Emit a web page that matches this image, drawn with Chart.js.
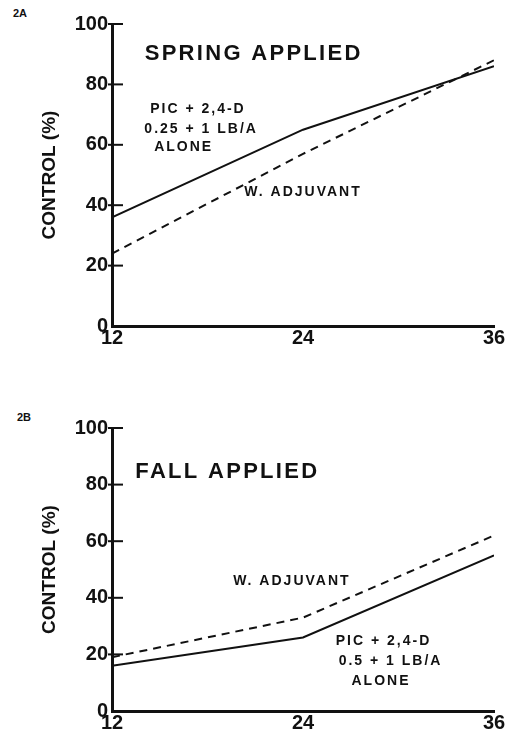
<!DOCTYPE html>
<html><head><meta charset="utf-8">
<script src="https://cdn.jsdelivr.net/npm/chart.js@4"></script>
<style>
html,body{margin:0;padding:0;background:#fff;}
body{width:509px;height:744px;position:relative;overflow:hidden;font-family:"Liberation Sans",Arial,sans-serif;}
.wrap{position:absolute;left:0;width:509px;}
.lab{position:absolute;font-weight:bold;font-size:11px;color:#111;line-height:11px;}
</style></head><body>
<div class="lab" style="left:13px;top:8px">2A</div>
<div class="lab" style="left:17px;top:412px">2B</div>
<div class="wrap" style="top:0;height:350px"><canvas id="cA" width="509" height="350"></canvas></div>
<div class="wrap" style="top:370px;height:374px"><canvas id="cB" width="509" height="374"></canvas></div>
<script>
const weeks = [12, 24, 36];
const yTicks = [0, 20, 40, 60, 80, 100];
const springAlone = [36, 65, 86];
const springAdjuvant = [24, 57, 88];
const fallAlone = [16, 26, 55];
const fallAdjuvant = [19, 33, 62];
const yTitle = 'CONTROL (%)';

const INK = '#111';
const FONT = '"Liberation Sans", Arial, sans-serif';

const inTicks = {
  id: 'inTicks',
  afterDraw(chart) {
    const y = chart.scales.y, ctx = chart.ctx, a = chart.chartArea;
    ctx.save();
    ctx.strokeStyle = INK; ctx.lineWidth = 2;
    y.ticks.forEach(t => {
      if (t.value === 0) return;
      const py = y.getPixelForValue(t.value);
      ctx.beginPath(); ctx.moveTo(a.left - 4, py); ctx.lineTo(a.left + 11, py); ctx.stroke();
    });
    ctx.restore();
  }
};

const notes = {
  id: 'notes',
  afterDatasetsDraw(chart, args, opts) {
    const {x, y} = chart.scales, ctx = chart.ctx;
    (opts.items || []).forEach(it => {
      ctx.save();
      ctx.font = it.font; ctx.fillStyle = INK;
      ctx.textAlign = it.align || 'center'; ctx.textBaseline = 'middle';
      if ('letterSpacing' in ctx) ctx.letterSpacing = (it.ls || 0) + 'px';
      ctx.fillText(it.text, x.getPixelForValue(it.x), y.getPixelForValue(it.y));
      ctx.restore();
    });
  }
};

function pts(vals) { return weeks.map((w, i) => ({x: w, y: vals[i]})); }

function makeChart(id, alone, adj, padTop, xHeight, items) {
  return new Chart(document.getElementById(id), {
    type: 'line',
    data: {
      datasets: [
        {data: pts(alone), borderColor: INK, borderWidth: 2, pointRadius: 0, tension: 0, fill: false},
        {data: pts(adj), borderColor: INK, borderWidth: 2, borderDash: [8, 6], pointRadius: 0, tension: 0, fill: false}
      ]
    },
    options: {
      responsive: false, animation: false,
      layout: {padding: {top: padTop, right: 15, bottom: 0, left: 0}},
      plugins: {legend: {display: false}, tooltip: {enabled: false}, notes: {items}},
      scales: {
        x: {
          type: 'linear', min: weeks[0], max: weeks[weeks.length - 1],
          afterBuildTicks: s => { s.ticks = weeks.map(v => ({value: v})); },
          afterFit: s => { s.height = xHeight; },
          grid: {display: true, drawOnChartArea: false, drawTicks: false},
          border: {display: true, color: INK, width: 3},
          ticks: {color: INK, padding: 0, font: {family: FONT, size: 20, weight: 'bold'}, maxRotation: 0}
        },
        y: {
          min: 0, max: 100,
          afterBuildTicks: s => { s.ticks = yTicks.map(v => ({value: v})); },
          afterFit: s => { s.width = 112; },
          grid: {display: true, drawOnChartArea: false, drawTicks: false},
          border: {display: true, color: INK, width: 3},
          ticks: {color: INK, padding: 4, font: {family: FONT, size: 20, weight: 'bold'}},
          title: {display: true, text: yTitle, color: INK, padding: {top: 38, bottom: 0}, font: {family: FONT, size: 19, weight: 'bold'}}
        }
      }
    },
    plugins: [inTicks, notes]
  });
}

const small = 'bold 14px ' + FONT;
const big = 'bold 22px ' + FONT;

makeChart('cA', springAlone, springAdjuvant, 24, 24, [
  {text: 'SPRING APPLIED', x: 20.9, y: 90, font: big, ls: 2.3},
  {text: 'PIC + 2,4-D', x: 17.4, y: 71.8, font: small, ls: 2},
  {text: '0.25 + 1 LB/A', x: 17.6, y: 65.1, font: small, ls: 2},
  {text: 'ALONE', x: 16.5, y: 59.1, font: small, ls: 2},
  {text: 'W. ADJUVANT', x: 24.0, y: 44.4, font: small, ls: 2}
]);

makeChart('cB', fallAlone, fallAdjuvant, 58, 33, [
  {text: 'FALL APPLIED', x: 19.25, y: 84.5, font: big, ls: 2.3},
  {text: 'W. ADJUVANT', x: 23.3, y: 45.9, font: small, ls: 2},
  {text: 'PIC + 2,4-D', x: 29.06, y: 24.7, font: small, ls: 2},
  {text: '0.5 + 1 LB/A', x: 29.5, y: 17.6, font: small, ls: 2},
  {text: 'ALONE', x: 28.9, y: 10.5, font: small, ls: 2}
]);
</script>
</body></html>
